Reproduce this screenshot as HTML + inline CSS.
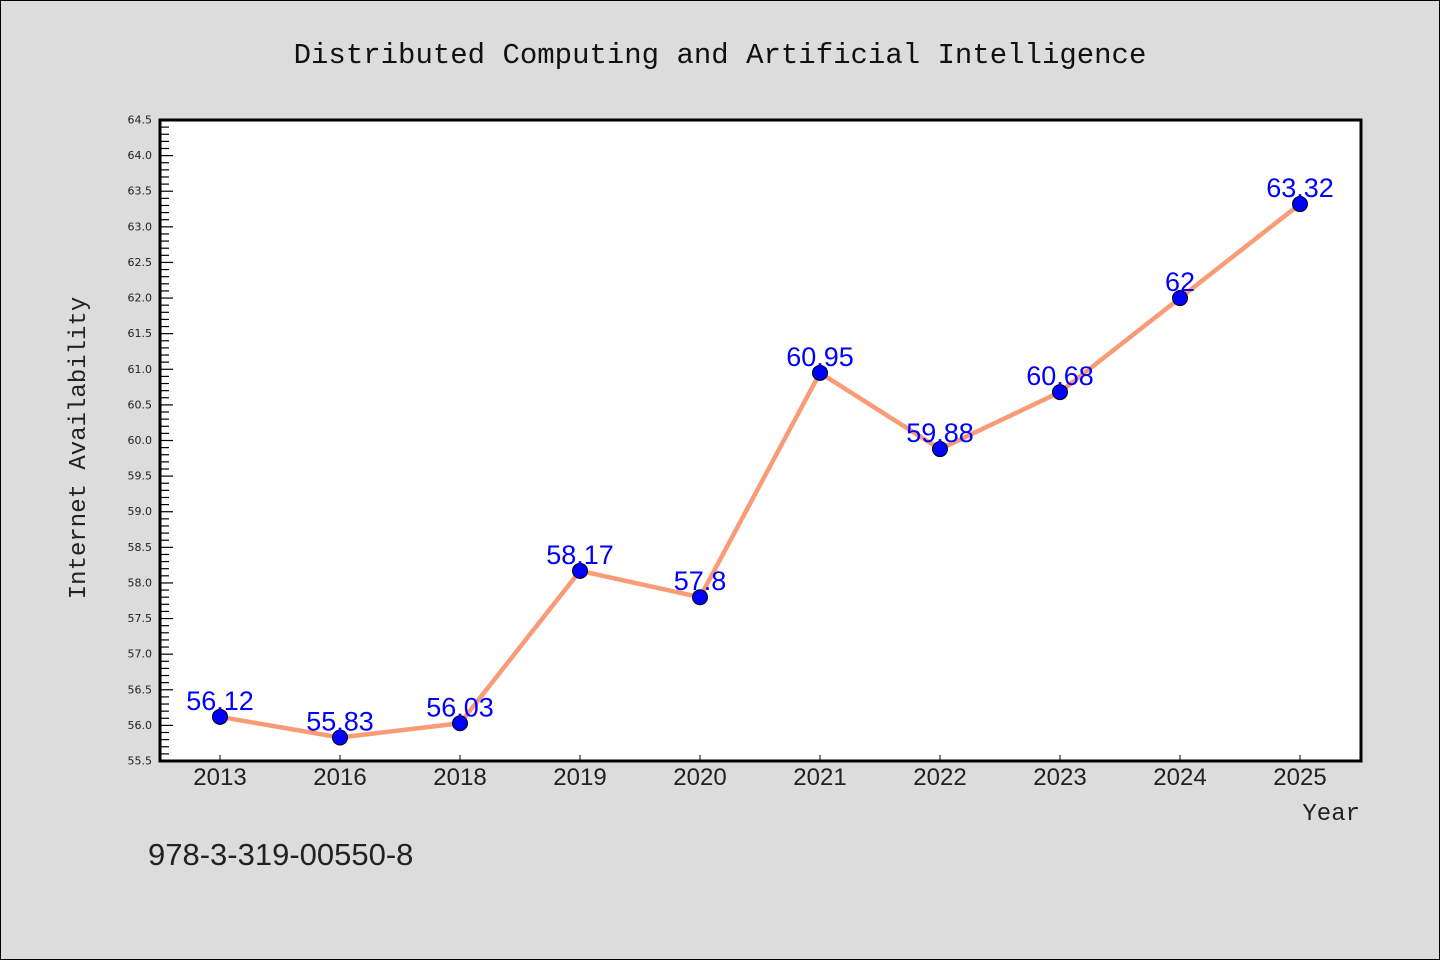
<!DOCTYPE html>
<html><head><meta charset="utf-8"><style>
body{margin:0;background:#dcdcdc;}
svg{display:block;font-family:"Liberation Mono","DejaVu Sans Mono",monospace;}
</style></head><body>
<svg id="chart" width="1440" height="960" xmlns="http://www.w3.org/2000/svg">
<rect x="0.5" y="0.5" width="1439" height="959" fill="#dcdcdc" stroke="#000"/>
<text x="720" y="63" text-anchor="middle" font-size="29" fill="#111">Distributed Computing and Artificial Intelligence</text>
<rect x="160" y="120" width="1201" height="641" fill="#fff"/>
<g id="yaxis"></g>
<g id="xaxis"></g>
<g id="series"></g>
<rect x="160" y="120" width="1201" height="641" fill="none" stroke="#000" stroke-width="3"/>
<text transform="translate(85,448) rotate(-90)" text-anchor="middle" font-size="24" fill="#222">Internet Availability</text>
<text x="1360" y="820" text-anchor="end" font-size="24" fill="#222">Year</text>
<text x="148" y="865" font-size="31" fill="#222" font-family="Liberation Sans, sans-serif">978-3-319-00550-8</text>
</svg>
<script>
const categories = ["2013","2016","2018","2019","2020","2021","2022","2023","2024","2025"];
const values = [56.12,55.83,56.03,58.17,57.8,60.95,59.88,60.68,62,63.32];
const labels = ["56.12","55.83","56.03","58.17","57.8","60.95","59.88","60.68","62","63.32"];
const yTicks = [55.5,56.0,56.5,57.0,57.5,58.0,58.5,59.0,59.5,60.0,60.5,61.0,61.5,62.0,62.5,63.0,63.5,64.0,64.5];
const NS="http://www.w3.org/2000/svg";
const L=160,R=1361,T=120,B=761,ymin=55.5,ymax=64.5;
const y=v=>B-(v-ymin)/(ymax-ymin)*(B-T);
const x=i=>220+i*120;
function mk(t,a,p){const e=document.createElementNS(NS,t);for(const k in a)e.setAttribute(k,a[k]);p.appendChild(e);return e;}
const ya=document.getElementById('yaxis'),xa=document.getElementById('xaxis'),s=document.getElementById('series');
for(let k=0;k<=90;k++){const v=ymin+k*0.1;const major=k%5===0;
 const ln=mk('line',{x1:L,x2:L+(major?13:9),y1:y(v),y2:y(v),stroke:'#000','stroke-width':1.2},ya);
 }
yTicks.forEach(v=>{const t=mk('text',{x:152,y:y(v)+3.5,'text-anchor':'end','font-size':11,fill:'#222','font-family':'DejaVu Sans, sans-serif'},ya);t.textContent=v.toFixed(1);
 });
categories.forEach((c,i)=>{const ln=mk('line',{x1:x(i),x2:x(i),y1:B,y2:B-6,stroke:'#000','stroke-width':1},xa);
 
 const t=mk('text',{x:x(i),y:785,'text-anchor':'middle','font-size':24,fill:'#222','font-family':'Liberation Sans, sans-serif'},xa);t.textContent=c;
 });
const pl=mk('polyline',{points:values.map((v,i)=>x(i)+','+y(v)).join(' '),fill:'none',stroke:'#fa9b78','stroke-width':4.5,'stroke-linejoin':'round'},s);

values.forEach((v,i)=>{const c=mk('circle',{cx:x(i),cy:y(v),r:7.5,fill:'#0000ff',stroke:'#000','stroke-width':1},s);
 
 const t=mk('text',{x:x(i),y:y(v)-7,'text-anchor':'middle','font-size':27,fill:'#0000ff','font-family':'Liberation Sans, sans-serif'},s);t.textContent=labels[i];
 });
</script>
</body></html>
